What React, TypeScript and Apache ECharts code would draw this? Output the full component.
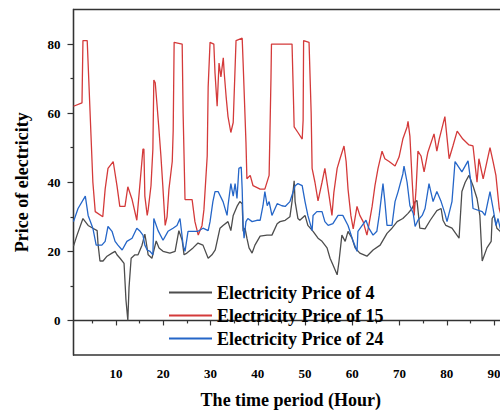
import React, { useEffect, useRef } from "react";
import * as echarts from "echarts";

const FONT = '"Liberation Serif", "Times New Roman", serif';

const seriesNames = ["Electricity Price of 4", "Electricity Price of 15", "Electricity Price of 24"];
const xTickLabels = [10, 20, 30, 40, 50, 60, 70, 80, 90];
const xMinorTicks = [5, 15, 25, 35, 45, 55, 65, 75, 85];
const yTickLabels = [0, 20, 40, 60, 80];
const yMinorTicks = [10, 30, 50, 70];

// Electricity Price of 4 (black)
const hours4 = [1.0, 1.75, 3.0, 4.1, 5.1, 6.0, 6.2, 6.6, 7.25, 8.1, 9.15, 9.8, 10.2, 10.85, 11.7, 12.1, 12.5, 12.75, 13.2, 14.0, 14.66, 15.5, 16.1, 16.35, 16.8, 17.6, 18.5, 19.1, 19.95, 21.4, 22.5, 23.3, 24.0, 24.4, 25.0, 26.3, 27.35, 28.4, 29.5, 30.3, 31.0, 32.0, 32.65, 33.7, 34.3, 34.8, 35.6, 36.2, 36.7, 36.9, 37.3, 37.7, 38.15, 38.8, 39.4, 40.5, 41.96, 43.0, 44.1, 44.7, 45.8, 46.8, 47.25, 47.7, 47.9, 48.5, 48.9, 50.0, 50.6, 51.7, 52.75, 53.6, 54.66, 55.3, 55.9, 56.8, 57.2, 57.8, 58.5, 59.1, 59.95, 60.6, 61.6, 63.1, 64.4, 65.9, 67.35, 68.4, 69.5, 70.7, 71.8, 72.65, 73.3, 73.7, 74.3, 75.4, 76.5, 77.9, 78.8, 79.2, 79.8, 81.1, 82.6, 83.2, 83.9, 84.7, 85.55, 86.4, 87.0, 87.5, 88.5, 89.4, 89.6, 90.0, 90.6, 91.3, 92.0];
const price4 = [21.5, 24.7, 29.5, 27.5, 26.7, 26, 22, 17.2, 17.2, 18.6, 19.5, 20, 19, 18, 16.5, 6, 0, 9.5, 18, 19, 19, 21.8, 25, 23, 19, 18, 23, 21, 20, 19.5, 20, 26, 23.2, 19, 19.5, 21, 22.4, 21.8, 18, 19, 20.4, 26.7, 27.5, 28.6, 26, 30.4, 33, 34.4, 33.8, 25.8, 26.7, 23.8, 21, 19.5, 21.8, 24.4, 24.7, 24.7, 28, 28.6, 29, 30, 34.4, 40.4, 34.4, 29.5, 29, 30.4, 27.5, 25.8, 23.8, 22.9, 21, 18, 16.1, 13.2, 17.2, 24.7, 22.9, 25.8, 23.8, 21, 19.5, 18.6, 20.4, 21.8, 25.2, 26.7, 28.6, 29.5, 31, 32.4, 34.4, 34.7, 26.7, 26.5, 29, 31.8, 32.4, 29, 27.5, 26.7, 23.8, 37.3, 40, 42, 39, 35.3, 30.4, 17.2, 21, 22.9, 29.5, 30.4, 26.7, 25.8, 24];

// Electricity Price of 15 (red)
const hours15 = [1.0, 2.8, 3.0, 3.9, 5.1, 5.6, 7.2, 7.7, 8.3, 9.4, 10.2, 10.8, 11.9, 12.5, 13.4, 14.4, 15.7, 15.9, 16.1, 16.6, 16.8, 17.4, 17.8, 18.0, 18.3, 18.7, 19.1, 19.5, 19.9, 20.4, 20.8, 21.2, 21.9, 22.1, 22.3, 24.0, 24.2, 24.6, 26.1, 26.7, 27.4, 28.2, 28.6, 29.3, 29.5, 29.9, 30.7, 30.95, 31.4, 31.8, 32.2, 32.7, 32.9, 33.3, 33.7, 34.3, 34.8, 35.4, 36.7, 36.9, 37.5, 37.7, 38.4, 39.0, 40.5, 41.5, 42.4, 42.8, 42.9, 47.25, 47.5, 47.7, 48.5, 49.4, 49.6, 49.7, 50.85, 51.3, 51.5, 52.1, 52.75, 53.6, 54.2, 55.1, 55.7, 56.1, 56.8, 57.4, 58.25, 58.7, 59.1, 59.7, 60.2, 61.0, 61.6, 62.3, 63.1, 63.5, 64.2, 64.8, 65.45, 66.3, 66.9, 67.8, 69.05, 69.9, 70.7, 71.6, 71.8, 72.2, 72.65, 73.1, 73.5, 73.9, 74.55, 75.2, 76.0, 77.3, 77.9, 78.4, 79.6, 80.5, 81.3, 82.2, 83.4, 84.7, 85.55, 86.4, 86.8, 87.7, 88.5, 89.15, 89.8, 90.4, 91.1, 92.0];
const price15 = [62, 63, 81, 81, 40, 31.5, 30, 38, 44, 46, 39, 33, 33, 38.7, 35, 29, 49.6, 49.6, 36, 30.4, 32, 39, 49.6, 69.6, 68.8, 62, 55, 47.6, 39, 27.5, 30, 38, 46, 55, 80.5, 80, 60, 35, 35, 28.6, 24.7, 27.5, 32, 47.6, 67.6, 80.5, 80, 71.6, 62, 74.5, 70.5, 76, 71.6, 64.8, 59, 54.4, 57.3, 81, 81.7, 74.5, 51.6, 41, 42, 39, 38, 38, 42, 70.5, 80, 80, 67, 56, 54.4, 52.5, 58, 81, 80.5, 60, 44, 40, 34.6, 40, 44, 36, 30.4, 37, 44, 46.8, 50.5, 46, 38, 30.4, 26.5, 33, 30.4, 28.6, 24.7, 27.5, 33, 39, 44, 49, 46.8, 46, 44.7, 47.3, 52.5, 56, 57.6, 53.3, 41, 30.4, 38, 49, 47.6, 43, 48.7, 54, 49, 52.5, 59, 46.8, 50.5, 54.8, 52.5, 50.8, 50.5, 40, 46.8, 41, 46, 50, 46, 42, 32.4, 28];

// Electricity Price of 24 (blue)
const hours24 = [1.0, 1.96, 3.5, 4.1, 5.1, 5.8, 7.0, 7.7, 8.3, 9.15, 9.8, 10.4, 11.3, 12.3, 13.4, 14.4, 15.1, 15.7, 16.1, 16.6, 17.2, 17.8, 18.0, 18.9, 19.95, 21.0, 22.06, 22.9, 23.54, 24.2, 24.6, 25.24, 26.3, 27.35, 28.4, 29.5, 29.9, 30.5, 30.95, 31.6, 32.65, 33.5, 33.7, 34.3, 34.8, 35.2, 35.6, 36.0, 36.5, 36.7, 36.9, 37.1, 37.5, 37.9, 38.8, 39.8, 40.5, 41.1, 41.5, 42.0, 42.4, 43.0, 44.1, 45.1, 45.8, 46.8, 47.9, 48.5, 49.4, 50.0, 50.6, 51.5, 51.7, 52.5, 53.6, 54.2, 54.9, 55.9, 57.0, 58.0, 59.1, 60.2, 61.0, 61.2, 62.1, 62.9, 63.5, 64.4, 65.2, 65.7, 66.5, 66.9, 67.35, 68.4, 69.05, 69.7, 70.7, 70.95, 71.6, 72.2, 72.9, 73.3, 73.9, 74.8, 75.4, 76.24, 77.1, 77.9, 78.8, 79.6, 80.05, 81.1, 81.75, 83.2, 84.5, 85.1, 85.55, 87.5, 88.1, 89.15, 89.8, 90.4, 90.85, 91.3, 92.0];
const price24 = [28.6, 32.4, 36, 30.4, 26.7, 21.8, 21.8, 22.9, 27.2, 25.8, 22.9, 21.8, 20.4, 22.9, 23.8, 26.7, 25.8, 24.7, 21.8, 20.4, 20, 19, 29.5, 26, 23.2, 25.8, 26.7, 27.5, 29.5, 21.8, 20, 25.8, 25.8, 25.8, 26.7, 26, 28.6, 34.4, 37.3, 37.3, 34.4, 30.4, 33.2, 39.6, 36, 39.6, 35.3, 44, 44.4, 38, 27.5, 23.8, 28.6, 29.5, 28.6, 29, 29, 33.2, 37.3, 33.2, 34.4, 30.4, 33.8, 33.2, 33, 34.4, 39, 39.6, 39, 34.4, 30.4, 26, 30.4, 31.5, 31.5, 28.6, 27.5, 28, 30.4, 30.4, 27.5, 22.9, 20, 25.8, 27.5, 29, 26.7, 24.7, 25.8, 30.4, 39.6, 34.4, 27.5, 27.5, 34.4, 37.3, 42.4, 44.7, 40, 33.2, 31, 27.2, 29, 30.4, 32.4, 39.6, 34.4, 37.3, 34.4, 31, 28.6, 34.4, 46, 43, 46.2, 40, 32.4, 31.5, 30.4, 37.3, 32.4, 27.5, 29.5, 26.7, 25];

const colors = ["#4d4d4d", "#d43a3a", "#2566c8"];

function zip(xs: number[], ys: number[]) {
  return xs.map((x, i) => [x, ys[i]]);
}

export default function App() {
  const ref = useRef<HTMLDivElement>(null);
  useEffect(() => {
    if (!ref.current) return;
    const chart = echarts.init(ref.current, null, { renderer: "svg" });
    const axisLine = { show: true, lineStyle: { color: "#333", width: 1.3 } };
    const labelStyle = { fontFamily: FONT, fontWeight: "bold" as const, fontSize: 13, color: "#000" };
    chart.setOption({
      animation: false,
      backgroundColor: "#fff",
      textStyle: { fontFamily: FONT },
      grid: {
        left: 73.5,
        top: 9.5,
        width: 434.7,
        height: 348.7,
        show: true,
        borderColor: "#333",
        borderWidth: 1.3,
        backgroundColor: "transparent",
      },
      legend: {
        orient: "vertical",
        left: 163,
        top: 278.5,
        itemWidth: 43,
        itemHeight: 14,
        itemGap: 5,
        data: seriesNames,
        itemStyle: { opacity: 0 },
        textStyle: { fontFamily: FONT, fontWeight: "bold", fontSize: 18, color: "#000" },
      },
      xAxis: [
        {
          type: "value",
          min: 1,
          max: 93,
          position: "bottom",
          axisLine,
          splitLine: { show: false },
          axisTick: { show: true, inside: false, length: 5, customValues: xTickLabels, lineStyle: { color: "#333", width: 1.2 } },
          axisLabel: { ...labelStyle, margin: 12, customValues: xTickLabels },
          name: "The time period (Hour)",
          nameLocation: "middle",
          nameGap: 36,
          nameTextStyle: { fontFamily: FONT, fontWeight: "bold", fontSize: 18, color: "#000" },
        },
        {
          type: "value",
          min: 1,
          max: 93,
          position: "bottom",
          axisLine: { show: false },
          splitLine: { show: false },
          axisTick: { show: true, inside: false, length: 3, customValues: xMinorTicks, lineStyle: { color: "#333", width: 1.2 } },
          axisLabel: { show: false },
        },
      ],
      yAxis: [
        {
          type: "value",
          min: -10,
          max: 90,
          position: "left",
          axisLine,
          splitLine: { show: false },
          axisTick: { show: true, inside: false, length: 6, customValues: yTickLabels, lineStyle: { color: "#333", width: 1.2 } },
          axisLabel: { ...labelStyle, margin: 13, customValues: yTickLabels },
          name: "Price of electricity",
          nameLocation: "middle",
          nameGap: 43,
          nameTextStyle: { fontFamily: FONT, fontWeight: "bold", fontSize: 18, color: "#000" },
        },
        {
          type: "value",
          min: -10,
          max: 90,
          position: "left",
          axisLine: { show: false },
          splitLine: { show: false },
          axisTick: { show: true, inside: false, length: 3, customValues: yMinorTicks, lineStyle: { color: "#333", width: 1.2 } },
          axisLabel: { show: false },
        },
      ],
      series: [
        { name: seriesNames[0], data: zip(hours4, price4) },
        { name: seriesNames[1], data: zip(hours15, price15) },
        { name: seriesNames[2], data: zip(hours24, price24) },
      ].map((s, i) => ({
        ...s,
        type: "line",
        xAxisIndex: 0,
        yAxisIndex: 0,
        symbol: "none",
        color: colors[i],
        lineStyle: { color: colors[i], width: 1.3 },
      })),
    });
    return () => chart.dispose();
  }, []);
  return (
    <div style={{ position: "absolute", left: 0, top: 0, width: 500, height: 414, overflow: "hidden" }}>
      <div ref={ref} style={{ width: 530, height: 414 }} />
    </div>
  );
}
